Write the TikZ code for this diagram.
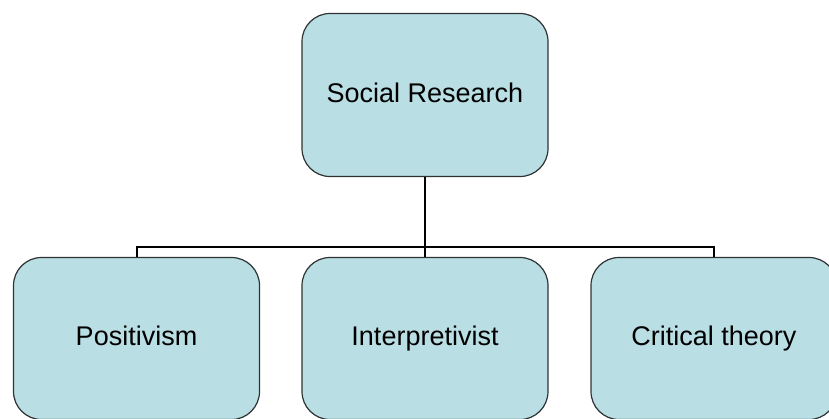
\documentclass[tikz,border=0pt]{standalone}
\usepackage{fontspec}
\setmainfont{Liberation Sans}
\definecolor{boxblue}{RGB}{185,222,227}
\definecolor{boxline}{RGB}{45,50,50}
\begin{document}
\begin{tikzpicture}[x=1pt,y=-1pt]

        \useasboundingbox (0,0) rectangle (829,418);

        \begin{scope}[every node/.style={draw=boxline,fill=boxblue,rounded corners=28pt,
            line width=1.2pt,minimum width=246pt,minimum height=163pt,
            text height=19pt,text depth=5pt,
            font=\fontsize{27}{31}\selectfont}]
          \node (social)     at (425,95)    {Social Research};
          \node (positivism) at (136.5,338.5) [minimum height=162pt] {Positivism};
          \node (interp)     at (425,338.5) [minimum height=162pt] {Interpretivist};
          \node (critical)   at (714,338.5) [minimum height=162pt] {Critical theory};
        \end{scope}

        \coordinate (bar) at (425,247);

        \begin{scope}[line width=2pt]
          \draw (social) -- (interp);
          \draw (positivism.north) |- (bar) -| (critical.north);
        \end{scope}

      \end{tikzpicture}
\end{document}
